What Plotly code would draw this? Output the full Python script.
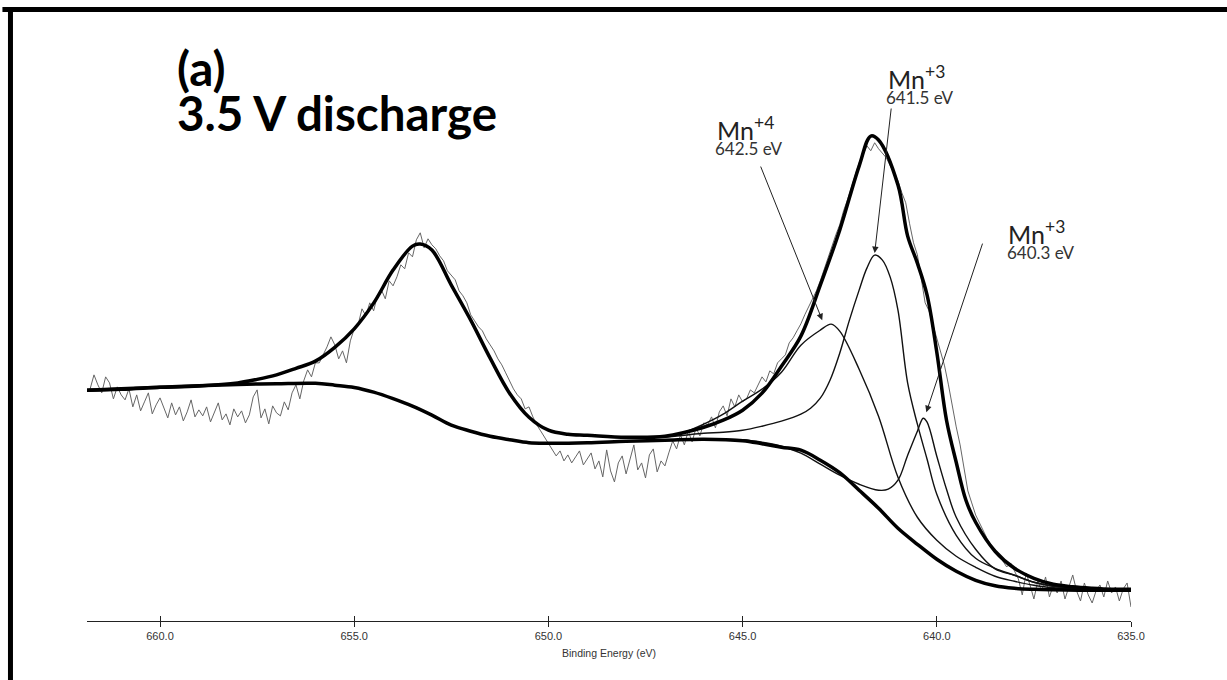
import numpy as np
import plotly.graph_objects as go

# ---------------- data (binding energy in eV, intensity in arbitrary units) ----------------
raw_be_start = 661.8
raw_be_step = 0.1
raw_counts = [
    232, 246, 236, 228, 244, 238, 222, 234, 226,
    221, 232, 214, 226, 210, 219, 228, 207, 216, 223,
    212, 203, 218, 206, 214, 200, 209, 221, 204, 211,
    205, 214, 199, 209, 218, 201, 207, 196, 212, 204,
    210, 198, 206, 224, 231, 203, 212, 197, 215, 208,
    205, 219, 211, 228, 236, 222, 240, 251, 244, 258,
    258, 266, 274, 284, 276, 262, 270, 258, 280, 292,
    296, 312, 305, 318, 310, 326, 331, 322, 340, 335,
    344, 356, 352, 368, 364, 381, 388, 373, 382, 376,
    372, 365, 360, 350, 346, 341, 330, 325, 318, 306,
    300, 294, 290, 282, 276, 270, 262, 256, 248, 240,
    232, 226, 222, 212, 214, 204, 196, 190, 184, 178,
    172, 165, 170, 160, 166, 158, 164, 170, 156, 162,
    168, 152, 160, 144, 171, 150, 139, 158, 165, 147,
    162, 176, 151, 158, 143, 166, 172, 149, 160, 155,
    168, 180, 172, 186, 176, 190, 179, 193, 185, 198,
    196, 204, 193, 209, 215, 205, 222, 214, 226, 219,
    222, 231, 228, 236, 244, 239, 250, 247, 258, 262,
    266, 278, 283, 290, 297, 306, 314, 322, 330, 340,
    352, 362, 375, 386, 396, 410, 421, 433, 446, 458,
    466, 475, 470, 478, 472, 468, 463, 455, 448, 440,
    428, 418, 397, 378, 366, 340, 318, 310, 296, 284,
    268, 255, 236, 214, 194, 176, 154, 130, 118, 106,
    98, 90, 82, 76, 70, 66, 60, 54, 58, 50,
    42, 26, 48, 36, 22, 40, 30, 44, 24, 36,
    28, 40, 22, 34, 46, 30, 20, 38, 26, 18,
    30, 36, 24, 40, 28, 34, 20, 32, 38, 14,
]

env_be = [661.88, 661, 660, 659, 658, 657.5, 657, 656.5, 656, 655.5, 655, 654.5, 654, 653.5,
          653.3, 653, 652.5, 652, 651.5, 651, 650.5, 650, 649.5, 649, 648, 647, 646, 645.5,
          645, 644.5, 644, 643.5, 643, 642.5, 642, 641.7, 641.5, 641, 640.75, 640.5, 640.25,
          640, 639.75, 639.5, 639.25, 639, 638.5, 638, 637.5, 637, 636.5, 636, 635.5, 635]
env_val = [230.7, 232.2, 233.6, 234.9, 238.0, 241.5, 246.0, 252.5, 259.7, 273.5, 292.0, 317.7,
           350.7, 374.7, 376.7, 370.7, 335.7, 300.7, 262.7, 227.7, 203.7, 190.7, 186.7, 185.7,
           183.7, 184.7, 193.7, 200.7, 210.7, 227.7, 254.7, 284.7, 335.7, 390.7, 454.7, 484.7,
           480.7, 435.7, 384.7, 357.7, 325.7, 268.7, 200.7, 158.7, 120.7, 98.7, 69.7, 52.7,
           42.7, 36.7, 34.2, 32.7, 31.7, 31.7]

bg_be = [661.88, 661, 660, 659, 658, 657, 656, 655.5, 655, 654.5, 654, 653.5, 653, 652.5, 652,
         651.5, 651, 650.5, 650, 649, 648, 647, 646, 645, 644.5, 644, 643.5, 643, 642.5, 642,
         641.5, 641, 640.5, 640, 639.5, 639, 638.5, 638, 637.5, 637, 636, 635]
bg_val = [230.7, 231.7, 233.6, 235.2, 236.4, 237.2, 237.6, 235.7, 233.4, 228.7, 222.2, 214.7,
          205.7, 195.7, 189.7, 184.7, 181.2, 178.2, 177.7, 178.2, 179.7, 180.7, 181.7, 180.2,
          177.2, 173.7, 170.7, 160.7, 148.2, 130.7, 112.7, 92.7, 76.7, 61.7, 49.7, 40.7, 35.2,
          32.7, 31.7, 31.2, 30.7, 30.7]

mn4_be = [647, 646.5, 646, 645.5, 645, 644.5, 644, 643.5, 643, 642.72, 642.5, 642, 641.5, 641,
          640.5, 640, 639.5, 639, 638.5, 638, 637.5, 637, 636.5, 636, 635]
mn4_val = [184.7, 188.7, 196.7, 206.7, 219.7, 231.7, 248.7, 275.7, 290.7, 296.7, 289.7, 251.7,
           204.7, 143.7, 103.7, 80.7, 64.7, 53.7, 44.7, 39.7, 35.7, 33.2, 31.7, 31.2, 30.7]

mn3a_be = [647, 646.5, 646, 645.5, 645, 644.5, 644, 643.5, 643.25, 643, 642.75, 642.5, 642.25,
           642, 641.8, 641.6, 641.4, 641.2, 641, 640.75, 640.5, 640.25, 640, 639.5, 639, 638.5,
           638, 637.5, 637, 636.5, 636, 635]
mn3a_val = [183.7, 185.7, 187.7, 188.7, 190.7, 194.7, 199.7, 206.7, 212.7, 222.7, 240.7, 267.7,
            300.7, 330.7, 352.7, 365.7, 360.7, 343.7, 310.7, 237.7, 196.7, 161.7, 126.7, 85.7,
            62.7, 52.7, 45.7, 38.7, 34.7, 32.7, 31.7, 30.7]

mn3b_be = [647, 646, 645, 644.5, 644, 643.5, 643, 642.5, 642, 641.5, 641.25, 641, 640.75, 640.5,
           640.35, 640.25, 640, 639.75, 639.5, 639, 638.5, 638, 637.5, 637, 636.5, 636, 635]
mn3b_val = [180.7, 181.7, 181.2, 178.7, 174.7, 167.7, 156.7, 145.7, 136.7, 130.7, 131.7, 140.7,
            165.7, 189.7, 202.7, 198.7, 164.7, 131.7, 103.7, 71.7, 52.0, 45.7, 38.7, 34.7, 32.7,
            31.7, 30.7]

tick_vals = [660.0, 655.0, 650.0, 645.0, 640.0, 635.0]
x_range = [661.88, 635.0]

peak_names = ["Mn<sup>+4</sup>", "Mn<sup>+3</sup>", "Mn<sup>+3</sup>"]
peak_energies = ["642.5 eV", "641.5 eV", "640.3 eV"]
# label anchor (left x in eV, y) and arrow tail / head
label_name_pos = [(645.71, 492.7), (641.30, 543.7), (638.21, 388.2)]
label_ev_pos = [(645.76, 472.7), (641.35, 523.7), (638.24, 368.7)]
arrow_tail = [(644.55, 455.7), (641.17, 513.7), (638.81, 378.7)]
arrow_head = [(642.95, 300.7), (641.60, 367.7), (640.27, 208.7)]

raw_be = np.round(raw_be_start - raw_be_step * np.arange(len(raw_counts)), 2)

fig = go.Figure()

fig.add_trace(go.Scatter(x=raw_be, y=raw_counts, mode="lines",
                         line=dict(color="#666666", width=1), hoverinfo="skip"))
for be, val in [(mn4_be, mn4_val), (mn3a_be, mn3a_val), (mn3b_be, mn3b_val)]:
    fig.add_trace(go.Scatter(x=be, y=val, mode="lines",
                             line=dict(color="#111111", width=1.4, shape="spline", smoothing=1)))
fig.add_trace(go.Scatter(x=bg_be, y=bg_val, mode="lines",
                         line=dict(color="#000000", width=3.5, shape="spline", smoothing=1)))
fig.add_trace(go.Scatter(x=env_be, y=env_val, mode="lines",
                         line=dict(color="#000000", width=3.5, shape="spline", smoothing=1)))
# empty trace to activate the overlaying axis (inside tick marks)
fig.add_trace(go.Scatter(x=[x_range[0]], y=[0], xaxis="x2", mode="lines",
                         line=dict(width=0), hoverinfo="skip"))

annotations = []
annotations.append(dict(x=659.61, y=553.7, xref="x", yref="y", text="(a)", showarrow=False,
                        xanchor="left", yanchor="middle",
                        font=dict(family="Lato", size=47.5, color="#000000", weight="bold")))
annotations.append(dict(x=659.61, y=508.7, xref="x", yref="y", text="3.5 V discharge",
                        showarrow=False, xanchor="left", yanchor="middle",
                        font=dict(family="Lato", size=47.5, color="#000000", weight="bold")))
for i in range(3):
    annotations.append(dict(x=label_name_pos[i][0], y=label_name_pos[i][1], xref="x", yref="y",
                            text=peak_names[i], showarrow=False, xanchor="left", yanchor="middle",
                            font=dict(family="Lato", size=25, color="#222222")))
    annotations.append(dict(x=label_ev_pos[i][0], y=label_ev_pos[i][1], xref="x", yref="y",
                            text=peak_energies[i], showarrow=False, xanchor="left",
                            yanchor="middle",
                            font=dict(family="Lato", size=17, color="#333333")))
    annotations.append(dict(x=arrow_head[i][0], y=arrow_head[i][1], xref="x", yref="y",
                            ax=arrow_tail[i][0], ay=arrow_tail[i][1], axref="x", ayref="y",
                            text="", showarrow=True, arrowhead=2, arrowsize=1.3,
                            arrowwidth=1, arrowcolor="#222222", standoff=0))
annotations.append(dict(x=0.5, y=-0.0556, xref="paper", yref="paper",
                        text="Binding Energy (eV)", showarrow=False,
                        xanchor="center", yanchor="middle",
                        font=dict(family="Liberation Sans", size=10.5, color="#333333")))

shapes = [
    dict(type="line", xref="paper", yref="paper", x0=-0.081, x1=1.2, y0=1.0525, y1=1.0525,
         line=dict(color="#000000", width=5)),
    dict(type="line", xref="paper", yref="paper", x0=-0.0733, x1=-0.0733, y0=1.057, y1=-0.2,
         line=dict(color="#000000", width=5)),
]

axis_common = dict(range=x_range, showgrid=False, zeroline=False, tickvals=tick_vals,
                   ticklen=5, tickwidth=1, tickcolor="#222222")

fig.update_layout(
    width=1227, height=680,
    margin=dict(l=87, r=96.3, t=40, b=59.3),
    paper_bgcolor="white", plot_bgcolor="white",
    showlegend=False,
    xaxis=dict(**axis_common, ticks="outside", showline=True, linecolor="#222222", linewidth=1.2,
               tickformat=".1f",
               tickfont=dict(family="Liberation Sans", size=11, color="#333333")),
    xaxis2=dict(**axis_common, ticks="inside", overlaying="x", side="bottom", anchor="y",
                showticklabels=False, showline=False, matches="x"),
    yaxis=dict(range=[0, 580.7], visible=False, showgrid=False, zeroline=False),
    annotations=annotations,
    shapes=shapes,
)

fig.write_html("out.html")
